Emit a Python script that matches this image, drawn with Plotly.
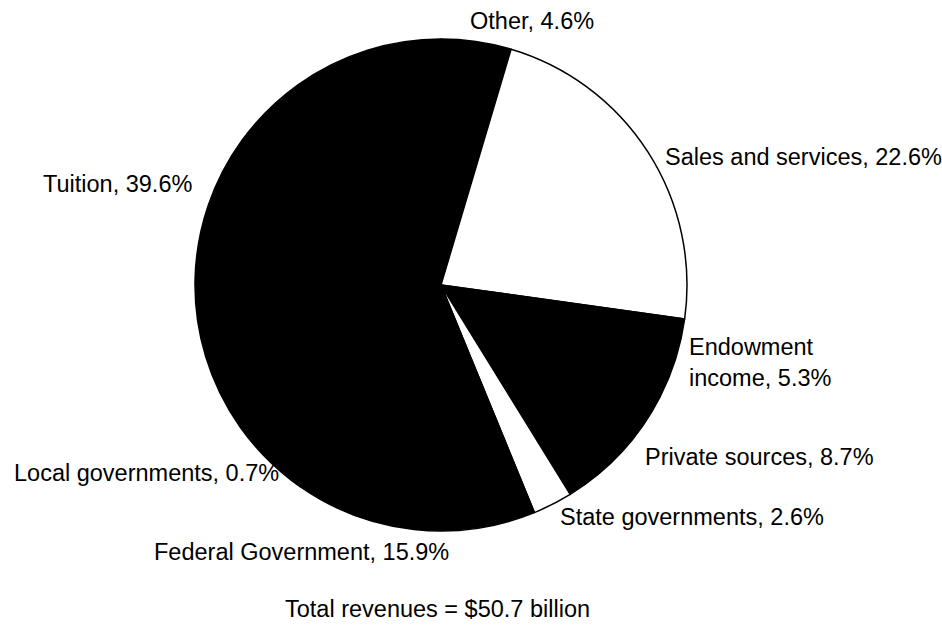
import plotly.graph_objects as go

# Data
categories = ["Other", "Sales and services", "Endowment income", "Private sources",
              "State governments", "Federal Government", "Local governments", "Tuition"]
shares = [4.6, 22.6, 5.3, 8.7, 2.6, 15.9, 0.7, 39.6]
label_names = ["Other", "Sales and services", "Endowment<br>income", "Private sources",
               "State governments", "Federal Government", "Local governments", "Tuition"]
total_note = "Total revenues = $50.7 billion"

# Styles
slice_colors = ["black", "white", "black", "black", "white", "black", "black", "black"]
W, H = 942, 628
FONT = dict(family="Liberation Sans, Arial, Helvetica, sans-serif", size=23.5, color="black")

# label placement (pixel x, pixel y, x anchor)
label_pos = [
    (532, 21, "center"),
    (663, 157, "left"),
    (687, 362, "left"),
    (643, 457, "left"),
    (558, 517, "left"),
    (152, 552, "left"),
    (12, 473, "left"),
    (194, 184, "right"),
]

cx, cy, r = 441, 285, 246

fig = go.Figure(go.Pie(
    labels=categories,
    values=shares,
    sort=False,
    direction="clockwise",
    rotation=0,
    marker=dict(colors=slice_colors, line=dict(color="black", width=1.5)),
    textinfo="none",
    hoverinfo="label+percent",
    showlegend=False,
    domain=dict(x=[(cx - r) / W, (cx + r) / W], y=[1 - (cy + r) / H, 1 - (cy - r) / H]),
))

annotations = []
for name, val, (px, py, anchor) in zip(label_names, shares, label_pos):
    annotations.append(dict(
        text=f"{name}, {val}%", x=px / W, y=1 - py / H, xref="paper", yref="paper",
        xanchor=anchor, yanchor="middle", showarrow=False, font=FONT, align="left",
    ))
annotations.append(dict(
    text=total_note, x=437 / W, y=1 - 609 / H, xref="paper", yref="paper",
    xanchor="center", yanchor="middle", showarrow=False, font=FONT,
))

fig.update_layout(
    width=W, height=H,
    margin=dict(l=0, r=0, t=0, b=0),
    paper_bgcolor="white", plot_bgcolor="white",
    annotations=annotations,
)

fig.write_html(
    "out.html",
    config={"displayModeBar": False},
    post_script="document.body.style.margin='0';document.body.style.overflow='hidden';",
)
